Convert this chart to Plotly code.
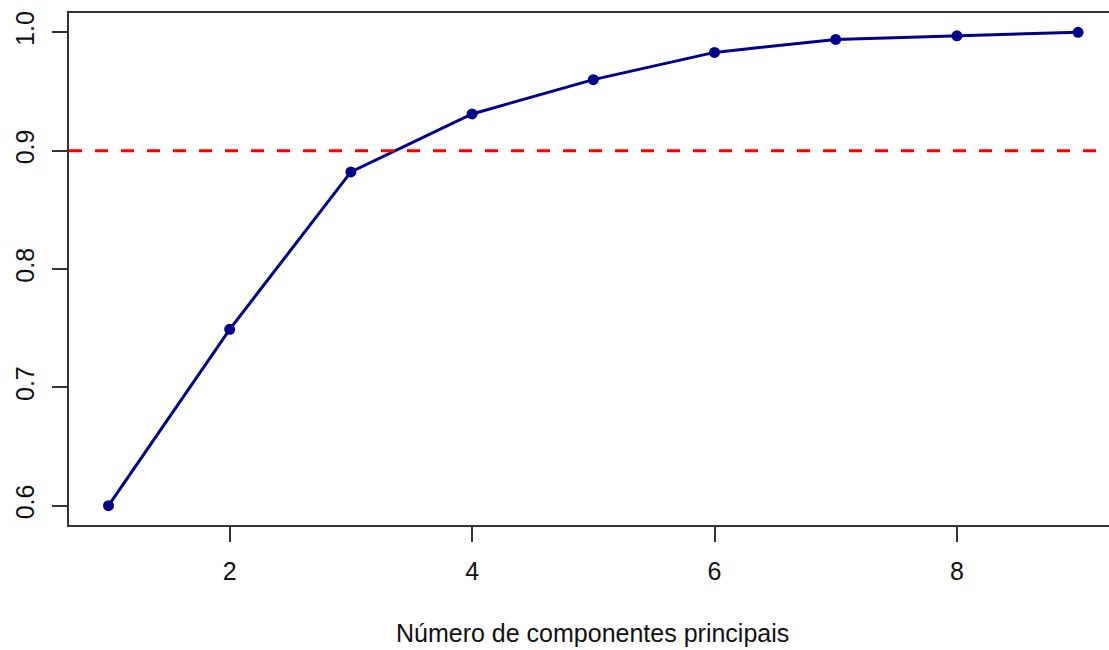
import plotly.graph_objects as go

componentes = [1, 2, 3, 4, 5, 6, 7, 8, 9]
variancia_acumulada = [0.600, 0.749, 0.882, 0.931, 0.960, 0.983, 0.994, 0.997, 1.000]
limiar = 0.9
y_ticks = [0.6, 0.7, 0.8, 0.9, 1.0]
x_ticks = [2, 4, 6, 8]

FONT = "Liberation Sans, Arial, sans-serif"

fig = go.Figure()
fig.add_trace(go.Scatter(
    x=componentes, y=variancia_acumulada, mode="lines+markers",
    line=dict(color="#00008B", width=3),
    marker=dict(color="#00008B", size=11),
    showlegend=False, hoverinfo="skip"))

fig.add_shape(type="line", xref="paper", x0=0, x1=1, yref="y", y0=limiar, y1=limiar,
              line=dict(color="#FF0000", width=3, dash="13px,13px"))

fig.add_annotation(text="Número de componentes principais", xref="paper", yref="paper",
                   x=0.503, y=-0.211, xanchor="center", yanchor="middle", showarrow=False,
                   font=dict(family=FONT, size=25, color="#111111"))

fig.update_layout(
    width=1109, height=650,
    margin=dict(l=69, r=0, t=13, b=125),
    plot_bgcolor="white", paper_bgcolor="white",
    font=dict(family=FONT, size=25, color="#111111"),
)
fig.update_xaxes(range=[0.674, 9.255], tickvals=x_ticks, ticks="outside", ticklen=15,
                 tickwidth=1.5, tickcolor="#333", showline=True, linecolor="#333", linewidth=1.5,
                 mirror=True, showgrid=False, zeroline=False, ticklabelstandoff=8,
                 tickfont=dict(size=25, family=FONT, color="#111111"))
fig.update_yaxes(range=[0.5837, 1.0163], tickvals=y_ticks, tickformat=".1f", ticks="outside",
                 ticklen=15, tickwidth=1.5, tickcolor="#333", showline=True, linecolor="#333",
                 linewidth=1.5, mirror=False, showgrid=False, zeroline=False, tickangle=-90,
                 ticklabelstandoff=8,
                 tickfont=dict(size=25, family=FONT, color="#111111"))

fig.write_html("out.html")
